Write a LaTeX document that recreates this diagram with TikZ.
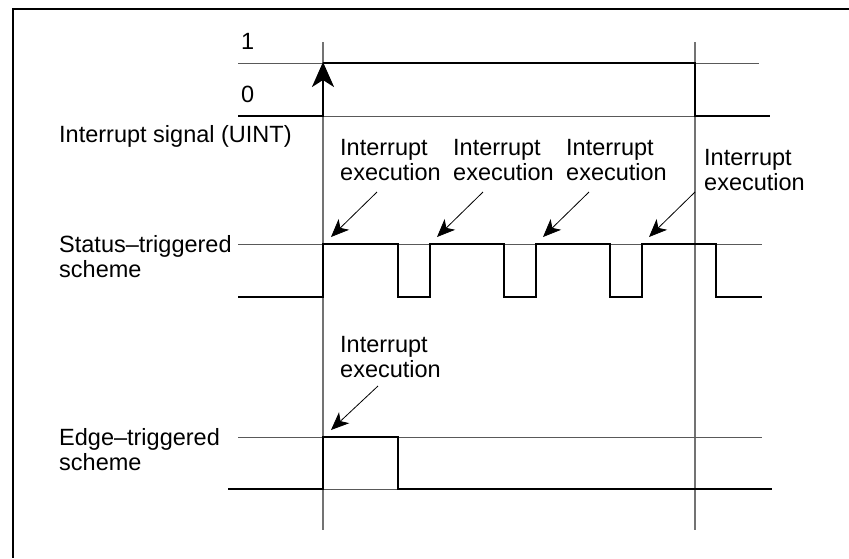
\documentclass[tikz,border=0pt]{standalone}
\usepackage{fontspec}
\setmainfont{Liberation Sans}
\usetikzlibrary{arrows.meta}
\begin{document}
\begin{tikzpicture}[x=1pt,y=-1pt,
  lbl/.style={anchor=base west,inner sep=0pt,font=\fontsize{23.5}{25.5}\selectfont},
  mlbl/.style={anchor=north west,inner sep=0pt,align=left,font=\fontsize{23.5}{25.5}\selectfont},
  thinline/.style={draw=black!65,line width=1pt},
  guide/.style={draw=black!55,line width=1.1pt},
  wave/.style={draw=black,line width=2.8pt,line join=miter},
  frame/.style={draw=black,line width=2.8pt},
  callout/.style={draw=black,line width=0.8pt,-{Stealth[length=18pt,width=15pt,inset=5pt]}},
  uparrow/.style={draw=black,line width=2.8pt,-{Stealth[length=25pt,width=22pt,inset=7pt]}}]
\useasboundingbox (0,0) rectangle (849,558);
\fill[white] (0,0) rectangle (849,558);
% frame (top and left edges)
\draw[frame] (849,9) -- (13,9) -- (13,558);
% guide verticals
\draw[guide] (323,42) -- (323,530);
\draw[guide] (695,42) -- (695,530);
% ---- Interrupt signal
\node[lbl] (one) at (241,49) {1};
\node[lbl] (zero) at (241,102) {0};
\node[lbl] (uint) at (59,142) {Interrupt signal (UINT)};
\draw[thinline] (238,63) -- (759,63);
\draw[thinline] (323,116) -- (695,116);
\draw[wave] (238,116) -- (323,116);
\draw[wave] (323,63) -- (695,63) -- (695,116) -- (770,116);
\draw[uparrow] (323,117) -- (323,62);
% ---- labels
\node[mlbl] (ie1) at (340,139) {Interrupt\\execution};
\node[mlbl] (ie2) at (453,139) {Interrupt\\execution};
\node[mlbl] (ie3) at (566,139) {Interrupt\\execution};
\node[mlbl] (ie4) at (704,149) {Interrupt\\execution};
\coordinate (t1) at (331,237);
\coordinate (t2) at (437,237);
\coordinate (t3) at (543,237);
\coordinate (t4) at (649,237);
\coordinate (s1) at (377,192);
\coordinate (s2) at (483,192);
\coordinate (s3) at (589,192);
\coordinate (s4) at (695,192);
\draw[callout] (s1) -- (t1);
\draw[callout] (s2) -- (t2);
\draw[callout] (s3) -- (t3);
\draw[callout] (s4) -- (t4);
% ---- Status-triggered
\node[mlbl] (stat) at (59,235) {Status--triggered\\scheme};
\draw[thinline] (238,244) -- (762,244);
\draw[wave] (238,297) -- (323,297) -- (323,244) -- (398,244) -- (398,297) -- (430,297) -- (430,244)
  -- (504,244) -- (504,297) -- (536,297) -- (536,244) -- (610,244) -- (610,297) -- (642,297)
  -- (642,244) -- (716,244) -- (716,297) -- (762,297);
% ---- Edge-triggered
\node[mlbl] (ie5) at (340,336) {Interrupt\\execution};
\coordinate (s5) at (378,386);
\coordinate (t5) at (331,430);
\draw[callout] (s5) -- (t5);
\node[mlbl] (edge) at (59,428) {Edge--triggered\\scheme};
\draw[thinline] (238,437) -- (762,437);
\draw[thinline] (323,489) -- (398,489);
\draw[wave] (228,489) -- (323,489) -- (323,437) -- (398,437) -- (398,489) -- (772,489);
\end{tikzpicture}
\end{document}
